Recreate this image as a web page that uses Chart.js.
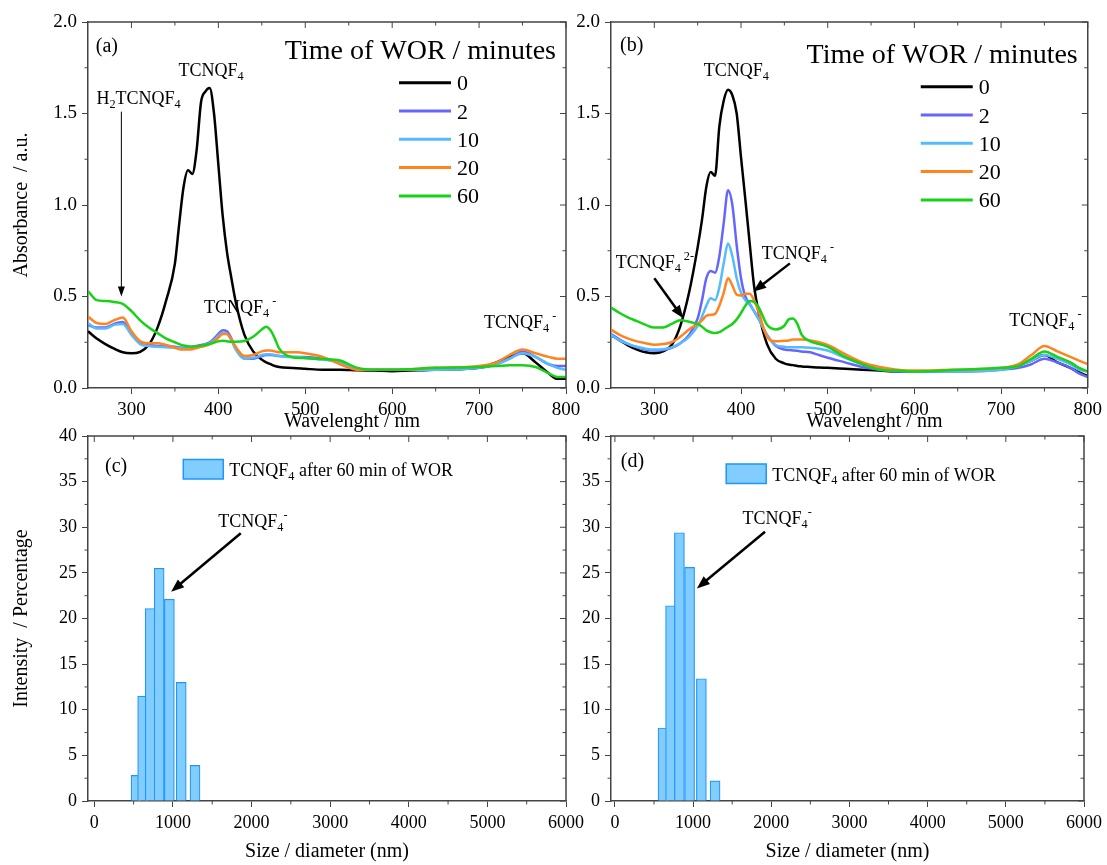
<!DOCTYPE html>
<html lang="en">
<head>
<meta charset="utf-8">
<title>TCNQF4 WOR: UV-vis spectra and DLS size distribution</title>
<script src="https://cdn.jsdelivr.net/npm/chart.js@4.4.0/dist/chart.umd.min.js"></script>
<style>
  body { margin: 0; background: #fff; }
  #figure { position: relative; width: 1107px; height: 865px; overflow: hidden; }
  #figure canvas { position: absolute; }
</style>
</head>
<body>
<div id="figure">
  <canvas id="panelA" width="590" height="436" style="left:0;top:0"></canvas>
  <canvas id="panelB" width="577" height="436" style="left:530px;top:0"></canvas>
  <canvas id="panelC" width="590" height="445" style="left:0;top:420px"></canvas>
  <canvas id="panelD" width="577" height="445" style="left:530px;top:420px"></canvas>
</div>

<script>
// ---- data ----
const minutes = ['0', '2', '10', '20', '60'];
const curveColors = ['#000000', '#6666ff', '#55bbff', '#ff8420', '#18d218'];

const wavelengths = [250, 260, 270, 280, 290, 300, 310, 320, 330, 340,
  350, 355, 360, 365, 370, 375, 380, 385, 390, 395,
  400, 405, 410, 415, 420, 430, 440, 450, 455, 460,
  465, 470, 480, 490, 500, 520, 540, 560, 580, 600,
  650, 700, 720, 735, 750, 765, 780, 790, 800];

// (a) absorbance for each WOR time
const absA0 = [0.31, 0.27, 0.24, 0.215, 0.195, 0.19, 0.198, 0.236, 0.33, 0.48,
  0.68, 0.9, 1.1, 1.19, 1.17, 1.3, 1.56, 1.62, 1.64, 1.5,
  1.22, 0.94, 0.74, 0.6, 0.47, 0.29, 0.2, 0.155, 0.14, 0.13,
  0.12, 0.115, 0.11, 0.108, 0.105, 0.1, 0.1, 0.097, 0.095, 0.092,
  0.1, 0.11, 0.14, 0.17, 0.19, 0.14, 0.08, 0.05, 0.05];
const absA2 = [0.345, 0.33, 0.33, 0.35, 0.36, 0.3, 0.245, 0.235, 0.23, 0.228,
  0.225, 0.222, 0.22, 0.22, 0.225, 0.23, 0.235, 0.24, 0.25, 0.27,
  0.295, 0.315, 0.31, 0.27, 0.215, 0.16, 0.16, 0.175, 0.18, 0.18,
  0.178, 0.175, 0.172, 0.17, 0.17, 0.16, 0.14, 0.105, 0.1, 0.1,
  0.1, 0.11, 0.13, 0.16, 0.2, 0.17, 0.13, 0.12, 0.12];
const absA10 = [0.355, 0.325, 0.325, 0.345, 0.35, 0.29, 0.24, 0.23, 0.225, 0.222,
  0.22, 0.218, 0.216, 0.216, 0.22, 0.225, 0.23, 0.235, 0.245, 0.262,
  0.285, 0.3, 0.295, 0.26, 0.21, 0.16, 0.165, 0.18, 0.185, 0.185,
  0.18, 0.175, 0.17, 0.17, 0.165, 0.155, 0.14, 0.105, 0.1, 0.1,
  0.1, 0.11, 0.13, 0.16, 0.19, 0.17, 0.13, 0.11, 0.1];
const absA20 = [0.39, 0.355, 0.35, 0.37, 0.385, 0.31, 0.255, 0.245, 0.245, 0.235,
  0.22, 0.212, 0.21, 0.21, 0.212, 0.218, 0.225, 0.23, 0.24, 0.255,
  0.275, 0.295, 0.295, 0.265, 0.225, 0.175, 0.18, 0.2, 0.205, 0.205,
  0.2, 0.195, 0.195, 0.195, 0.19, 0.17, 0.13, 0.1, 0.1, 0.1,
  0.11, 0.12, 0.14, 0.18, 0.21, 0.19, 0.17, 0.16, 0.16];
const absA60 = [0.53, 0.48, 0.475, 0.47, 0.46, 0.42, 0.37, 0.33, 0.3, 0.27,
  0.25, 0.24, 0.232, 0.228, 0.226, 0.228, 0.232, 0.235, 0.24, 0.248,
  0.255, 0.258, 0.255, 0.253, 0.253, 0.257, 0.28, 0.32, 0.335, 0.315,
  0.27, 0.215, 0.175, 0.165, 0.163, 0.158, 0.15, 0.11, 0.1, 0.1,
  0.11, 0.115, 0.12, 0.125, 0.125, 0.115, 0.08, 0.06, 0.06];

// (b) absorbance for each WOR time
const absB0 = [0.29, 0.26, 0.232, 0.21, 0.195, 0.19, 0.2, 0.235, 0.34, 0.52,
  0.77, 0.92, 1.1, 1.18, 1.16, 1.43, 1.57, 1.63, 1.6, 1.5,
  1.26, 1.03, 0.79, 0.56, 0.42, 0.24, 0.16, 0.135, 0.128, 0.125,
  0.12, 0.118, 0.115, 0.112, 0.11, 0.105, 0.1, 0.095, 0.09, 0.09,
  0.095, 0.105, 0.125, 0.15, 0.18, 0.14, 0.11, 0.085, 0.065];
const absB2 = [0.295, 0.265, 0.24, 0.222, 0.21, 0.205, 0.208, 0.22, 0.245, 0.29,
  0.38, 0.48, 0.6, 0.64, 0.63, 0.72, 0.9, 1.08, 1.0, 0.78,
  0.6, 0.5, 0.46, 0.42, 0.38, 0.29, 0.23, 0.21, 0.207, 0.205,
  0.203, 0.2, 0.195, 0.18, 0.165, 0.14, 0.115, 0.1, 0.09, 0.09,
  0.09, 0.1, 0.11, 0.13, 0.16, 0.14, 0.11, 0.08, 0.06];
const absB10 = [0.29, 0.26, 0.24, 0.225, 0.215, 0.21, 0.212, 0.222, 0.245, 0.28,
  0.34, 0.39, 0.45, 0.49, 0.48, 0.55, 0.68, 0.79, 0.72, 0.6,
  0.52, 0.48, 0.455, 0.42, 0.38, 0.29, 0.235, 0.225, 0.222, 0.222,
  0.222, 0.222, 0.22, 0.215, 0.205, 0.165, 0.13, 0.105, 0.095, 0.09,
  0.09, 0.1, 0.12, 0.15, 0.18, 0.16, 0.13, 0.1, 0.09];
const absB20 = [0.32, 0.29, 0.27, 0.255, 0.245, 0.237, 0.24, 0.25, 0.28, 0.32,
  0.35, 0.37, 0.395, 0.4, 0.405, 0.45, 0.52, 0.6, 0.56, 0.51,
  0.505, 0.515, 0.515, 0.48, 0.42, 0.28, 0.255, 0.258, 0.26, 0.265,
  0.265, 0.265, 0.26, 0.25, 0.235, 0.185, 0.14, 0.115, 0.1, 0.095,
  0.1, 0.11, 0.13, 0.18, 0.23, 0.2, 0.17, 0.15, 0.13];
const absB60 = [0.44, 0.41, 0.385, 0.365, 0.345, 0.33, 0.33, 0.35, 0.37, 0.362,
  0.35, 0.335, 0.315, 0.305, 0.3, 0.305, 0.32, 0.335, 0.35, 0.375,
  0.41, 0.45, 0.475, 0.47, 0.445, 0.345, 0.32, 0.34, 0.375, 0.38,
  0.35, 0.29, 0.255, 0.24, 0.225, 0.17, 0.13, 0.1, 0.095, 0.09,
  0.1, 0.11, 0.12, 0.16, 0.2, 0.17, 0.14, 0.11, 0.09];

// DLS bins (nm) and intensity (%)
const sizeBinsC = [531, 615, 712, 825, 955, 1106, 1281];
const intensityC = [2.8, 11.5, 21.1, 25.5, 22.1, 13.0, 3.9];
const sizeBinsD = [615, 712, 825, 955, 1106, 1281];
const intensityD = [8.0, 21.4, 29.4, 25.6, 13.4, 2.2];

// tick values
const wavelengthTicks = [300, 400, 500, 600, 700, 800];
const absorbanceTicks = [0, 0.5, 1.0, 1.5, 2.0];
const sizeTicks = [0, 1000, 2000, 3000, 4000, 5000, 6000];
const intensityTicks = [0, 5, 10, 15, 20, 25, 30, 35, 40];

const legendTitle = 'Time of WOR / minutes';
const barLabel = 'TCNQF_{4} after 60 min of WOR';

// ---- styling helpers ----
const serif = '"Liberation Serif", "Times New Roman", serif';
Chart.defaults.font.family = serif;
Chart.defaults.color = '#000';
const axisColor = '#444';
const barFill = 'rgb(130, 205, 255)';
const barEdge = 'rgb(30, 150, 250)';

// text with _{sub} and ^{sup} parts, left aligned at baseline y
function chemText(ctx, text, x, y, size) {
  const parts = text.split(/(_\{[^}]*\}|\^\{[^}]*\})/).filter(Boolean);
  let cx = x;
  ctx.textAlign = 'left';
  ctx.textBaseline = 'alphabetic';
  for (const p of parts) {
    let s = size, dy = 0, t = p;
    if (p.startsWith('_{')) { s = size * 0.68; dy = size * 0.22; t = p.slice(2, -1); }
    else if (p.startsWith('^{')) { s = size * 0.68; dy = -size * 0.42; t = p.slice(2, -1); }
    ctx.font = s + 'px ' + serif;
    ctx.fillText(t, cx, y + dy);
    cx += ctx.measureText(t).width;
  }
}

function drawArrow(ctx, x1, y1, x2, y2, width, head, half) {
  const ang = Math.atan2(y2 - y1, x2 - x1);
  const c = Math.cos(ang), s = Math.sin(ang);
  ctx.lineWidth = width;
  ctx.beginPath();
  ctx.moveTo(x1, y1);
  ctx.lineTo(x2 - c * head * 0.7, y2 - s * head * 0.7);
  ctx.stroke();
  ctx.beginPath();
  ctx.moveTo(x2, y2);
  ctx.lineTo(x2 - head * c + half * s, y2 - head * s - half * c);
  ctx.lineTo(x2 - head * c - half * s, y2 - head * s + half * c);
  ctx.closePath();
  ctx.fill();
}

function minorValues(scale) {
  const v = scale.ticks.map(t => t.value);
  const step = v[1] - v[0];
  const out = [];
  v.forEach(t => [t - step / 2, t + step / 2].forEach(m => {
    if (m > scale.min && m < scale.max && !out.includes(m)) out.push(m);
  }));
  return out;
}

// box around the plot: top/right edges, mirrored ticks and minor ticks
const framePlugin = {
  id: 'frame',
  afterDraw(chart) {
    const {ctx, chartArea: a, scales: {x, y}} = chart;
    ctx.save();
    ctx.strokeStyle = axisColor;
    ctx.lineWidth = 1.5;
    ctx.beginPath();
    ctx.moveTo(a.left, a.top);
    ctx.lineTo(a.right, a.top);
    ctx.lineTo(a.right, a.bottom);
    ctx.stroke();
    ctx.lineWidth = 1;
    ctx.beginPath();
    x.ticks.forEach(t => {
      const px = x.getPixelForValue(t.value);
      ctx.moveTo(px, a.top); ctx.lineTo(px, a.top + 6);
    });
    y.ticks.forEach(t => {
      const py = y.getPixelForValue(t.value);
      ctx.moveTo(a.right, py); ctx.lineTo(a.right - 6, py);
    });
    minorValues(x).forEach(m => {
      const px = x.getPixelForValue(m);
      ctx.moveTo(px, a.bottom); ctx.lineTo(px, a.bottom + 3.5);
      ctx.moveTo(px, a.top); ctx.lineTo(px, a.top + 3.5);
    });
    minorValues(y).forEach(m => {
      const py = y.getPixelForValue(m);
      ctx.moveTo(a.left, py); ctx.lineTo(a.left - 3.5, py);
      ctx.moveTo(a.right, py); ctx.lineTo(a.right - 3.5, py);
    });
    ctx.stroke();
    ctx.restore();
  }
};

// labels and arrows placed in data units
function notesPlugin(spec) {
  return {
    id: 'notes',
    afterDraw(chart) {
      const {ctx, chartArea: a, scales: {x, y}} = chart;
      ctx.save();
      ctx.fillStyle = '#000';
      ctx.strokeStyle = '#000';
      spec.labels.forEach(l => chemText(ctx, l.text, x.getPixelForValue(l.x), y.getPixelForValue(l.y), l.size || 18));
      spec.arrows.forEach(r => drawArrow(ctx,
        x.getPixelForValue(r.x1), y.getPixelForValue(r.y1),
        x.getPixelForValue(r.x2), y.getPixelForValue(r.y2),
        r.width, r.head, r.half));
      if (spec.xTitle) {
        ctx.font = '20px ' + serif;
        ctx.textAlign = 'center';
        ctx.textBaseline = 'alphabetic';
        ctx.fillText(spec.xTitle, (a.left + a.right) / 2 + 25, a.bottom + 39);
      }
      ctx.restore();
    }
  };
}

function lineLegend(titleDy, rowDy) {
  return {
    id: 'lineLegend',
    afterDraw(chart) {
      const {ctx, chartArea: a} = chart;
      ctx.save();
      ctx.fillStyle = '#000';
      ctx.textBaseline = 'alphabetic';
      ctx.font = '28px ' + serif;
      ctx.textAlign = 'right';
      ctx.fillText(legendTitle, a.right - 10, a.top + titleDy);
      ctx.textAlign = 'left';
      ctx.font = '22px ' + serif;
      chart.data.datasets.forEach((ds, i) => {
        const yy = a.top + rowDy + i * 28.3;
        ctx.strokeStyle = ds.borderColor;
        ctx.lineWidth = 3;
        ctx.beginPath();
        ctx.moveTo(a.right - 167, yy);
        ctx.lineTo(a.right - 115, yy);
        ctx.stroke();
        ctx.fillText(ds.label, a.right - 109, yy + 7.5);
      });
      ctx.restore();
    }
  };
}

function boxLegend(dx, dy) {
  return {
    id: 'boxLegend',
    afterDraw(chart) {
      const {ctx, chartArea: a} = chart;
      ctx.save();
      ctx.fillStyle = barFill;
      ctx.strokeStyle = barEdge;
      ctx.lineWidth = 1.5;
      ctx.fillRect(a.left + dx, a.top + dy, 40, 19.5);
      ctx.strokeRect(a.left + dx, a.top + dy, 40, 19.5);
      ctx.fillStyle = '#000';
      chemText(ctx, barLabel, a.left + dx + 46, a.top + dy + 16.5, 18);
      ctx.restore();
    }
  };
}

// ---- axes ----
function fixedTicks(values) {
  return s => { s.ticks = values.map(v => ({value: v})); };
}

function baseAxis(size) {
  return {
    type: 'linear',
    ticks: {font: {size: size}, color: '#000', padding: 5, autoSkip: false, maxRotation: 0},
    grid: {drawOnChartArea: false, tickLength: 6, color: axisColor, lineWidth: 1},
    border: {color: axisColor, width: 1.5}
  };
}

function wavelengthAxis() {
  const ax = Object.assign(baseAxis(19), {
    min: 250, max: 800,
    afterBuildTicks: fixedTicks(wavelengthTicks),
    afterFit: s => { s.height = 48; }
  });
  ax.ticks.callback = v => String(v);
  return ax;
}

function absorbanceAxis(width, title) {
  const ax = Object.assign(baseAxis(19), {
    min: 0, max: 2,
    afterBuildTicks: fixedTicks(absorbanceTicks),
    afterFit: s => { s.width = width; }
  });
  ax.ticks.callback = v => v.toFixed(1);
  ax.title = title
    ? {display: true, text: title, font: {size: 20}, color: '#000', padding: {top: 10, bottom: 0}}
    : {display: false};
  return ax;
}

function sizeAxis(min) {
  const ax = Object.assign(baseAxis(18), {
    min: min, max: 6000, offset: false,
    afterBuildTicks: fixedTicks(sizeTicks),
    afterFit: s => { s.height = 64; },
    title: {display: true, text: 'Size / diameter (nm)', font: {size: 20}, color: '#000', padding: {top: 0, bottom: 1}}
  });
  ax.ticks.callback = v => String(v);
  ax.grid.offset = false;
  return ax;
}

function intensityAxis(width, title) {
  const ax = Object.assign(baseAxis(18), {
    min: 0, max: 40,
    afterBuildTicks: fixedTicks(intensityTicks),
    afterFit: s => { s.width = width; }
  });
  ax.ticks.callback = v => String(v);
  ax.title = title
    ? {display: true, text: title, font: {size: 20}, color: '#000', padding: {top: 10, bottom: 0}}
    : {display: false};
  return ax;
}

function spectra(series) {
  return series.map((vals, i) => ({
    label: minutes[i],
    data: wavelengths.map((w, j) => ({x: w, y: vals[j]})),
    borderColor: curveColors[i],
    borderWidth: 2.5,
    pointRadius: 0,
    fill: false,
    cubicInterpolationMode: 'monotone',
    order: series.length - i
  }));
}

function histogram(bins, values) {
  return [{
    label: barLabel,
    data: bins.map((b, i) => ({x: b, y: values[i]})),
    backgroundColor: barFill,
    borderColor: barEdge,
    borderWidth: 1.2,
    barThickness: 10
  }];
}

const common = {
  responsive: false,
  devicePixelRatio: 1,
  animation: false,
  events: [],
  plugins: {legend: {display: false}, tooltip: {enabled: false}}
};

// ---- (a) ----
new Chart(document.getElementById('panelA'), {
  type: 'line',
  data: {datasets: spectra([absA0, absA2, absA10, absA20, absA60])},
  options: Object.assign({}, common, {
    layout: {padding: {left: 0, top: 22, right: 24, bottom: 0}},
    scales: {x: wavelengthAxis(), y: absorbanceAxis(88, 'Absorbance  / a.u.')}
  }),
  plugins: [framePlugin, lineLegend(37, 60.7), notesPlugin({
    xTitle: 'Wavelenght / nm',
    labels: [
      {x: 259, y: 1.836, text: '(a)', size: 20},
      {x: 354, y: 1.705, text: 'TCNQF_{4}'},
      {x: 259.7, y: 1.552, text: 'H_{2}TCNQF_{4}'},
      {x: 383.5, y: 0.41, text: 'TCNQF_{4}^{ -}'},
      {x: 705.6, y: 0.328, text: 'TCNQF_{4}^{ -}'}
    ],
    arrows: [{x1: 288.4, y1: 1.51, x2: 288.4, y2: 0.5, width: 1, head: 10, half: 3.5}]
  })]
});

// ---- (b) ----
new Chart(document.getElementById('panelB'), {
  type: 'line',
  data: {datasets: spectra([absB0, absB2, absB10, absB20, absB60])},
  options: Object.assign({}, common, {
    layout: {padding: {left: 0, top: 22, right: 19, bottom: 0}},
    scales: {x: wavelengthAxis(), y: absorbanceAxis(81, null)}
  }),
  plugins: [framePlugin, lineLegend(41, 64.7), notesPlugin({
    xTitle: 'Wavelenght / nm',
    labels: [
      {x: 260.4, y: 1.842, text: '(b)', size: 20},
      {x: 357, y: 1.705, text: 'TCNQF_{4}'},
      {x: 255.4, y: 0.656, text: 'TCNQF_{4}^{ 2-}'},
      {x: 424, y: 0.705, text: 'TCNQF_{4}^{ -}'},
      {x: 709.5, y: 0.339, text: 'TCNQF_{4}^{ -}'}
    ],
    arrows: [
      {x1: 300, y1: 0.6, x2: 333.4, y2: 0.381, width: 2.5, head: 13, half: 5},
      {x1: 456.4, y1: 0.681, x2: 414, y2: 0.526, width: 2.5, head: 13, half: 5}
    ]
  })]
});

// ---- (c) ----
new Chart(document.getElementById('panelC'), {
  type: 'bar',
  data: {datasets: histogram(sizeBinsC, intensityC)},
  options: Object.assign({}, common, {
    layout: {padding: {left: 0, top: 16, right: 24, bottom: 0}},
    scales: {x: sizeAxis(-80), y: intensityAxis(88, 'Intensity  / Percentage')}
  }),
  plugins: [framePlugin, boxLegend(95.3, 23.5), notesPlugin({
    labels: [
      {x: 137, y: 36.05, text: '(c)', size: 20},
      {x: 1578, y: 30.04, text: 'TCNQF_{4}^{-}'}
    ],
    arrows: [{x1: 1863, y1: 29.34, x2: 977.5, y2: 22.94, width: 2.5, head: 13, half: 5}]
  })]
});

// ---- (d) ----
new Chart(document.getElementById('panelD'), {
  type: 'bar',
  data: {datasets: histogram(sizeBinsD, intensityD)},
  options: Object.assign({}, common, {
    layout: {padding: {left: 0, top: 16, right: 19, bottom: 0}},
    scales: {x: sizeAxis(-50), y: intensityAxis(81, null)}
  }),
  plugins: [framePlugin, boxLegend(115.2, 28), notesPlugin({
    labels: [
      {x: 76, y: 36.6, text: '(d)', size: 20},
      {x: 1632, y: 30.36, text: 'TCNQF_{4}^{-}'}
    ],
    arrows: [{x1: 1920, y1: 29.5, x2: 1048, y2: 23.3, width: 2.5, head: 13, half: 5}]
  })]
});
</script>
</body>
</html>
